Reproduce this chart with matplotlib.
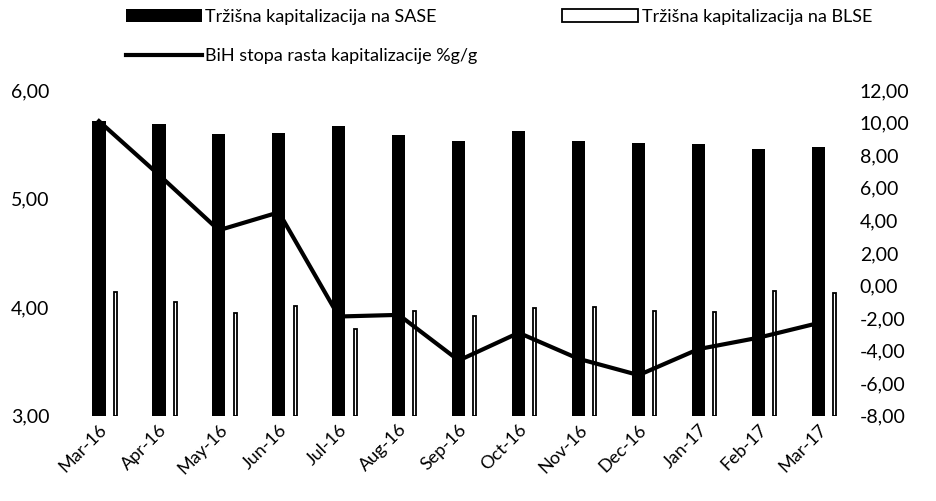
import numpy as np
import matplotlib.pyplot as plt
from matplotlib.ticker import FuncFormatter

plt.rcParams['font.family'] = ['Lato', 'DejaVu Sans']

# podaci
mjeseci = ['Mar-16', 'Apr-16', 'May-16', 'Jun-16', 'Jul-16', 'Aug-16', 'Sep-16',
           'Oct-16', 'Nov-16', 'Dec-16', 'Jan-17', 'Feb-17', 'Mar-17']
sase = [5.72, 5.69, 5.60, 5.61, 5.67, 5.59, 5.53, 5.62, 5.53, 5.51, 5.50, 5.46, 5.48]
blse = [4.14, 4.05, 3.95, 4.01, 3.80, 3.97, 3.92, 3.99, 4.00, 3.97, 3.96, 4.15, 4.13]
stopa_bih = [10.1, 6.8, 3.4, 4.5, -1.9, -1.8, -4.6, -2.9, -4.5, -5.5, -3.9, -3.2, -2.3]

fmt = FuncFormatter(lambda v, p: f'{v:.2f}'.replace('.', ','))

fig = plt.figure(figsize=(9.37, 5.01), dpi=100)
ax = fig.add_axes([0.0736, 0.170, 0.832, 0.650])
x = np.arange(len(mjeseci))

b1 = ax.bar(x, np.array(sase) - 3, bottom=3, width=0.22, color='black',
            label='Tržišna kapitalizacija na SASE')
b2 = ax.bar(x + 0.27, np.array(blse) - 3, bottom=3, width=0.05, color='white',
            edgecolor='black', linewidth=1.3, label='Tržišna kapitalizacija na BLSE')
ax.set_ylim(3, 6)
ax.set_yticks([3, 4, 5, 6])
ax.yaxis.set_major_formatter(fmt)
ax.set_xlim(-0.5, len(mjeseci) - 0.5)
ax.set_xticks(x)
ax.set_xticklabels(mjeseci, rotation=45, ha='right', rotation_mode='anchor')

ax2 = ax.twinx()
l1, = ax2.plot(x, stopa_bih, color='black', linewidth=3,
               label='BiH stopa rasta kapitalizacije %g/g')
ax2.set_ylim(-8, 12)
ax2.set_yticks(np.arange(-8, 13, 2))
ax2.yaxis.set_major_formatter(fmt)

for a in (ax, ax2):
    for s in a.spines.values():
        s.set_visible(False)
    a.tick_params(length=0, labelsize=14)
ax.tick_params(axis='y', pad=14)
ax2.tick_params(axis='y', pad=8)
ax.tick_params(axis='x', pad=4, labelsize=13)

fig.legend([b1, l1, b2], [b1.get_label(), l1.get_label(), b2.get_label()],
           ncol=2, loc='upper left', bbox_to_anchor=(0.117, 1.015), frameon=False,
           fontsize=13, handlelength=4.2, handletextpad=0.2, columnspacing=4.7,
           labelspacing=1.3)

plt.savefig('out.png', dpi=100)
